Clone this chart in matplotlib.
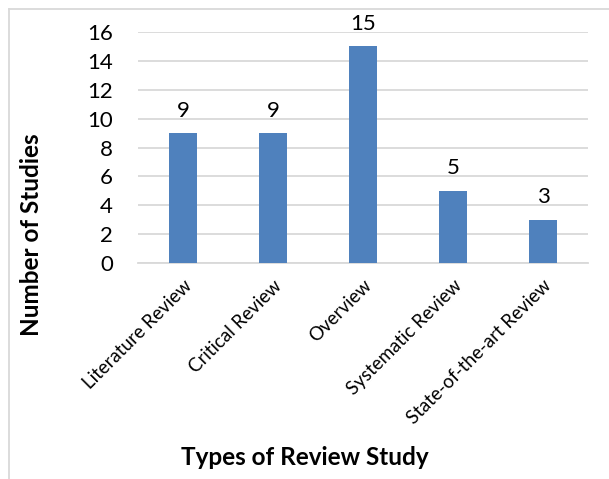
import matplotlib
matplotlib.use("Agg")
import matplotlib.pyplot as plt
from matplotlib.lines import Line2D

categories = ["Literature Review", "Critical Review", "Overview",
              "Systematic Review", "State-of-the-art Review"]
counts = [9, 9, 15, 5, 3]
yticks = [0, 2, 4, 6, 8, 10, 12, 14, 16]

plt.rcParams['font.family'] = ['Lato', 'DejaVu Sans']

fig = plt.figure(figsize=(6.09, 4.79), dpi=100)
ax = fig.add_axes([138/609, 1-263/479, 450/609, 231/479])

x = list(range(len(categories)))
bars = ax.bar(x, counts, width=0.31, color='#4f81bd', zorder=3)
for b, v in zip(bars, counts):
    ax.annotate(str(v), (b.get_x() + b.get_width()/2, v), xytext=(0, 9),
                textcoords='offset points', ha='center', va='bottom',
                fontsize=16)

ax.set_xlim(-0.5, len(categories) - 0.5)
ax.set_ylim(0, 16)
ax.set_yticks(yticks)
ax.set_yticklabels([str(t) for t in yticks], fontsize=16)
ax.yaxis.grid(True, color='#d9d9d9', linewidth=1.3, zorder=0)
ax.set_xticks(x)
ax.set_xticklabels(categories, rotation=45, ha='right',
                   rotation_mode='anchor', fontsize=13.5)
ax.tick_params(axis='both', length=0)
ax.tick_params(axis='y', pad=18)
ax.tick_params(axis='x', pad=10)
for s in ['top', 'right', 'left']:
    ax.spines[s].set_visible(False)
ax.spines['bottom'].set_color('#d9d9d9')
ax.spines['bottom'].set_linewidth(1.3)

ax.set_ylabel("Number of Studies", fontsize=17.5, fontweight='bold')
ax.yaxis.set_label_coords(43/609, 1-235/479, transform=fig.transFigure)
ax.set_xlabel("Types of Review Study", fontsize=17.5, fontweight='bold')
ax.xaxis.set_label_coords(305/609, 1-446/479, transform=fig.transFigure)

# outer chart border (left and top visible)
fig.add_artist(Line2D([8.5/609, 8.5/609], [0, 1-8.5/479], color='#d9d9d9',
                      linewidth=1.3, transform=fig.transFigure))
fig.add_artist(Line2D([8.5/609, 1], [1-8.5/479, 1-8.5/479], color='#d9d9d9',
                      linewidth=1.3, transform=fig.transFigure))

fig.savefig("out.png", dpi=100)
